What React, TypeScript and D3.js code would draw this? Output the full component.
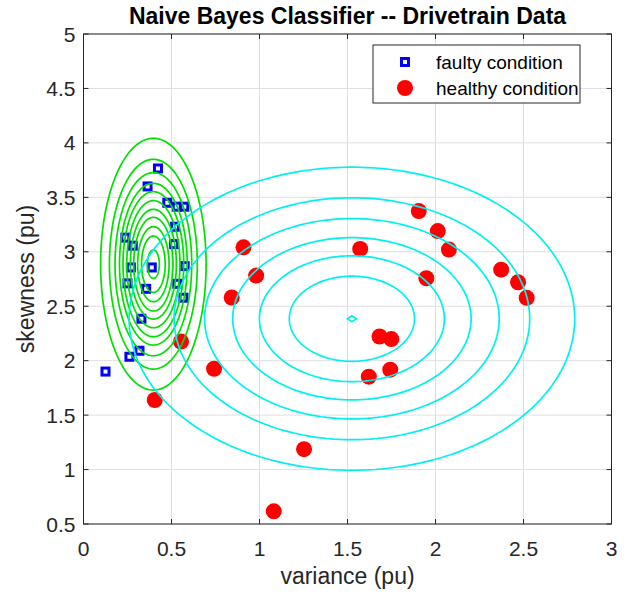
import React from "react";
import * as d3 from "d3";

// ---------- data ----------
const faultyX = [0.423, 0.364, 0.476, 0.53, 0.573, 0.52, 0.515, 0.238, 0.28, 0.388, 0.269, 0.575, 0.25, 0.356, 0.533, 0.568, 0.329, 0.318, 0.261, 0.125];
const faultyY = [3.765, 3.6, 3.45, 3.414, 3.414, 3.23, 3.07, 3.13, 3.056, 2.856, 2.856, 2.868, 2.71, 2.66, 2.706, 2.578, 2.385, 2.091, 2.036, 1.9];

const healthyX = [1.905, 2.013, 2.076, 1.572, 0.909, 0.981, 0.842, 1.948, 2.373, 2.469, 2.518, 1.682, 1.749, 1.621, 1.743, 0.554, 0.742, 0.405, 1.253, 1.081];
const healthyY = [3.374, 3.19, 3.02, 3.026, 3.041, 2.781, 2.58, 2.757, 2.836, 2.72, 2.577, 2.222, 2.198, 1.853, 1.917, 2.176, 1.926, 1.639, 1.187, 0.616];

const xTicks = [0, 0.5, 1, 1.5, 2, 2.5, 3];
const yTicks = [0.5, 1, 1.5, 2, 2.5, 3, 3.5, 4, 4.5, 5];
const xTickLabels = ["0", "0.5", "1", "1.5", "2", "2.5", "3"];
const yTickLabels = ["0.5", "1", "1.5", "2", "2.5", "3", "3.5", "4", "4.5", "5"];

// class-conditional Gaussian parameters (faulty = green, healthy = cyan)
const faultyMu = [0.397, 2.886];
const faultySigma = [0.134, 0.517];
const faultyRadii = [2.236, 1.863, 1.626, 1.436, 1.288, 1.129, 0.975, 0.832, 0.666, 0.501, 0.253];

const healthyMu = [1.525, 2.385];
const healthySigma = [0.633, 0.696];
const healthyRadii = [2, 1.596, 1.322, 1.07, 0.83, 0.562, 0.04];

const legendLabels = ["faulty condition", "healthy condition"];

// ---------- layout ----------
const W = 629;
const H = 593;
const L = 83.5, R = 611.5, T = 34, B = 524;
const FONT = "'Liberation Sans', Arial, Helvetica, sans-serif";
const AX = "#262626";
const SQ = 7;
const SQW = 3;

export default function App() {
  const x = d3.scaleLinear().domain([0, 3]).range([L, R]);
  const y = d3.scaleLinear().domain([0.5, 5]).range([B, T]);

  const line = d3
    .line<[number, number]>()
    .x((d) => x(d[0]))
    .y((d) => y(d[1]))
    .curve(d3.curveLinearClosed);

  const ellipse = (mu: number[], sig: number[], r: number) => {
    const n = r < 0.1 ? 4 : 180;
    const pts: [number, number][] = d3.range(n).map((i) => {
      const a = (i / n) * 2 * Math.PI;
      return [mu[0] + r * sig[0] * Math.cos(a), mu[1] + r * sig[1] * Math.sin(a)];
    });
    return line(pts) || "";
  };

  const tickLen = 5;

  return (
    <svg width={W} height={H} style={{ position: "absolute", left: 0, top: 0, background: "#fff" }} fontFamily={FONT}>
      <rect x={0} y={0} width={W} height={H} fill="#fff" />
      {/* grid */}
      <g stroke="#dfdfdf" strokeWidth={1}>
        {xTicks.map((t) => (
          <line key={"gx" + t} x1={x(t)} x2={x(t)} y1={T} y2={B} />
        ))}
        {yTicks.map((t) => (
          <line key={"gy" + t} x1={L} x2={R} y1={y(t)} y2={y(t)} />
        ))}
      </g>

      {/* markers */}
      <g>
        {faultyX.map((v, i) => (
          <rect key={"f" + i} x={x(v) - SQ / 2} y={y(faultyY[i]) - SQ / 2} width={SQ} height={SQ} fill="#fff" stroke="#0000ff" strokeWidth={SQW} />
        ))}
        {healthyX.map((v, i) => (
          <circle key={"h" + i} cx={x(v)} cy={y(healthyY[i])} r={8} fill="#ff0000" />
        ))}
      </g>

      {/* contours */}
      <g fill="none" strokeWidth={1.7}>
        {faultyRadii.map((r, i) => (
          <path key={"gc" + i} d={ellipse(faultyMu, faultySigma, r)} stroke="#00e000" />
        ))}
        {healthyRadii.map((r, i) => (
          <path key={"cc" + i} d={ellipse(healthyMu, healthySigma, r)} stroke="#00f0f0" />
        ))}
      </g>

      {/* axes box + ticks */}
      <rect x={L} y={T} width={R - L} height={B - T} fill="none" stroke={AX} strokeWidth={1} />
      <g stroke={AX} strokeWidth={1}>
        {xTicks.map((t) => (
          <g key={"tx" + t}>
            <line x1={x(t)} x2={x(t)} y1={B} y2={B - tickLen} />
            <line x1={x(t)} x2={x(t)} y1={T} y2={T + tickLen} />
          </g>
        ))}
        {yTicks.map((t) => (
          <g key={"ty" + t}>
            <line x1={L} x2={L + tickLen} y1={y(t)} y2={y(t)} />
            <line x1={R} x2={R - tickLen} y1={y(t)} y2={y(t)} />
          </g>
        ))}
      </g>

      {/* tick labels */}
      <g fill={AX} fontSize={21}>
        {xTicks.map((t, i) => (
          <text key={"lx" + t} x={x(t)} y={B + 31.5} textAnchor="middle">
            {xTickLabels[i]}
          </text>
        ))}
        {yTicks.map((t, i) => (
          <text key={"ly" + t} x={L - 8} y={y(t) + 7.5} textAnchor="end">
            {yTickLabels[i]}
          </text>
        ))}
      </g>

      {/* labels */}
      <text x={(L + R) / 2} y={24} textAnchor="middle" fontSize={23} fontWeight="bold" fill="#000">
        Naive Bayes Classifier -- Drivetrain Data
      </text>
      <text x={(L + R) / 2} y={584} textAnchor="middle" fontSize={23} fill={AX}>
        variance (pu)
      </text>
      <text transform={`translate(34,${(T + B) / 2}) rotate(-90)`} textAnchor="middle" fontSize={23} fill={AX}>
        skewness (pu)
      </text>

      {/* legend */}
      <g>
        <rect x={373} y={45} width={207} height={58} fill="#fff" stroke={AX} strokeWidth={1} />
        <rect x={405 - SQ / 2} y={62 - SQ / 2} width={SQ} height={SQ} fill="#fff" stroke="#0000ff" strokeWidth={SQW} />
        <circle cx={405} cy={88} r={8} fill="#ff0000" />
        <text x={436} y={69} fontSize={19} fill="#000">
          {legendLabels[0]}
        </text>
        <text x={436} y={95} fontSize={19} fill="#000">
          {legendLabels[1]}
        </text>
      </g>
    </svg>
  );
}
